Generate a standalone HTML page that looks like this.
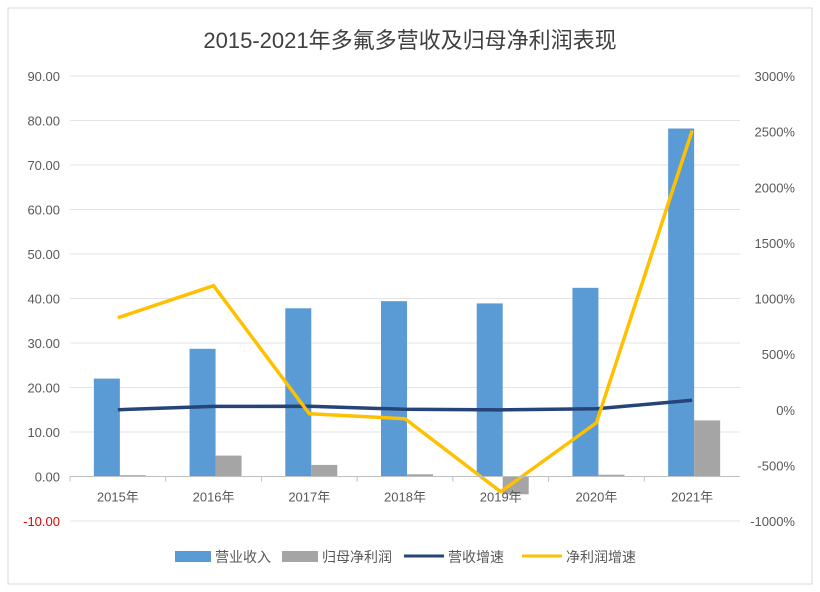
<!DOCTYPE html>
<html><head><meta charset="utf-8"><style>
html,body{margin:0;padding:0;background:#fff;}
svg{display:block;font-family:"Liberation Sans","Noto Sans CJK SC",sans-serif;}
</style></head><body>
<svg id="chart" width="820" height="592" viewBox="0 0 820 592">
<rect x="8" y="8" width="804" height="576" fill="#fff" stroke="#d9d9d9"/>
<text x="410" y="48" text-anchor="middle" font-size="22" fill="#404040">2015-2021年多氟多营收及归母净利润表现</text>
<g id="grid"></g><g id="bars"></g><g id="lines"></g><g id="axes"></g>
<g>
<rect x="175" y="551" width="36" height="11" fill="#5b9bd5"/>
<text x="215" y="562" font-size="14" fill="#595959">营业收入</text>
<rect x="282" y="551" width="36" height="11" fill="#a5a5a5"/>
<text x="322" y="562" font-size="14" fill="#595959">归母净利润</text>
<line x1="404" y1="556" x2="444" y2="556" stroke="#264478" stroke-width="3"/>
<text x="448" y="562" font-size="14" fill="#595959">营收增速</text>
<line x1="522" y1="556" x2="562" y2="556" stroke="#ffc000" stroke-width="3"/>
<text x="566" y="562" font-size="14" fill="#595959">净利润增速</text>
</g>
</svg>
<script>
const categories=["2015年","2016年","2017年","2018年","2019年","2020年","2021年"];
const revenue=[22.0,28.7,37.8,39.4,38.9,42.4,78.2];
const netProfit=[0.3,4.7,2.6,0.5,-4.0,0.4,12.6];
const revenueGrowth=[0,30,31,4,-1,9,85];
const profitGrowth=[827,1115,-36,-81,-737,-117,2509];
const leftTicks=[-10,0,10,20,30,40,50,60,70,80,90];
const rightTicks=[-1000,-500,0,500,1000,1500,2000,2500,3000];
const NS="http://www.w3.org/2000/svg";
const X0=70,X1=740,YT=76,YB=521;
const step=(X1-X0)/categories.length;
const cx=i=>X0+step*(i+0.5);
const yL=v=>YB-(v+10)/100*(YB-YT);
const yR=v=>YB-(v+1000)/4000*(YB-YT);
function mk(tag,attrs,parent,text){const e=document.createElementNS(NS,tag);for(const k in attrs)e.setAttribute(k,attrs[k]);if(text!==undefined)e.textContent=text;parent.appendChild(e);return e;}
const grid=document.getElementById('grid'),bars=document.getElementById('bars'),lines=document.getElementById('lines'),axes=document.getElementById('axes');
leftTicks.forEach(t=>{
 if(t!==0){const g=mk('line',{x1:X0,x2:X1,y1:yL(t),y2:yL(t),stroke:'#e3e3e3'},grid);
 
 }
 const l=mk('text',{x:60,y:yL(t)+5,'text-anchor':'end','font-size':13,fill:t<0?'#e00000':'#595959'},axes,t.toFixed(2));
 
 
});
rightTicks.forEach(t=>{
 const l=mk('text',{x:795,y:yR(t)+5,'text-anchor':'end','font-size':13,fill:'#595959'},axes,t+'%');
 
 
});
const ax=mk('line',{x1:X0,x2:X1,y1:yL(0),y2:yL(0),stroke:'#bfbfbf'},axes);


categories.forEach((c,i)=>{
 const tk=mk('line',{x1:X0+step*i,x2:X0+step*i,y1:yL(0),y2:yL(0)+5,stroke:'#bfbfbf'},axes);
 
 
 const b=mk('rect',{x:cx(i)-24,y:yL(Math.max(revenue[i],0)),width:26,height:Math.abs(yL(revenue[i])-yL(0)),fill:'#5b9bd5'},bars);
 
 
 const p=mk('rect',{x:cx(i)+2,y:yL(Math.max(netProfit[i],0)),width:26,height:Math.abs(yL(netProfit[i])-yL(0)),fill:'#a5a5a5'},bars);
 
 
 const l=mk('text',{x:cx(i),y:yL(0)+25,'text-anchor':'middle','font-size':13,fill:'#595959'},axes,c);
 
 
});
const rg=mk('polyline',{points:revenueGrowth.map((v,i)=>cx(i)+','+yR(v)).join(' '),fill:'none',stroke:'#264478','stroke-width':3.5,'stroke-linejoin':'round'},lines);


const pg=mk('polyline',{points:profitGrowth.map((v,i)=>cx(i)+','+yR(v)).join(' '),fill:'none',stroke:'#ffc000','stroke-width':3.5,'stroke-linejoin':'round'},lines);


</script>
</body></html>
